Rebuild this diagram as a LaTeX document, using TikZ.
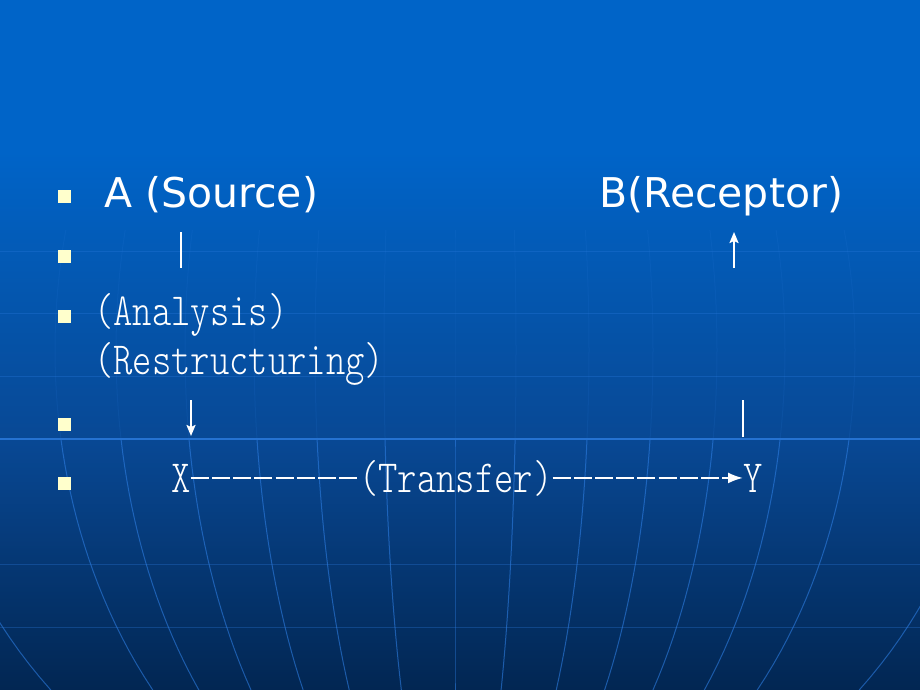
\documentclass[tikz,border=0pt]{standalone}
\usepackage{fontspec}
\usetikzlibrary{arrows.meta,positioning}

\newfontfamily\headfont{DejaVu Sans}
\newfontfamily\slidemono{lmmonolt10-regular.otf}[FakeStretch=0.8]

\definecolor{slidetop}{RGB}{0,100,200}
\definecolor{slidemid}{RGB}{8,72,148}
\definecolor{slidebot}{RGB}{2,38,82}
\definecolor{gridblue}{RGB}{45,125,225}
\definecolor{bulletcream}{RGB}{255,255,204}

% background, bottom (25bp) to top (75bp)
\pgfdeclareverticalshading{slidebg}{100bp}{color(0bp)=(slidebot); color(25bp)=(slidebot); color(43bp)=(slidemid); color(64bp)=(slidetop); color(100bp)=(slidetop)}

\tikzset{
  headtext/.style={anchor=base west,inner sep=0pt,text=white,font=\headfont\fontsize{41}{48}\selectfont},
  monotext/.style={anchor=base west,inner sep=0pt,text=white,font=\slidemono\fontsize{46}{52}\selectfont},
  bulletbox/.style={fill=bulletcream,minimum size=13pt,inner sep=0pt},
  stroke/.style={white,line width=2pt},
  dashline/.style={white,line width=2pt,dash pattern=on 18pt off 3.2pt},
  gridline/.style={gridblue,line width=1pt,opacity=0.3}
}

\begin{document}
\begin{tikzpicture}[x=1pt,y=-1pt]

 % slide background
 \shade[shading=slidebg] (0,0) rectangle (920,690);
 \useasboundingbox (0,0) rectangle (920,690);

 % globe lines
 \foreach \yy in {251,313,376,564,627}
   \draw[gridline] (0,\yy) -- (920,\yy);
 \draw[gridline,opacity=0.8,line width=2pt] (0,439) -- (920,439);
 \foreach \k in {-535,-400,-339,-270,-201,-140,-71,0,61,134,198,262,330,400,535}{
   \draw[gridline,opacity=0.12] plot[variable=\t,domain=230:440,samples=15]
     ({455+\k*sqrt(1-((\t-350)/519)^2)},\t);
   \draw[gridline,opacity=0.6] plot[variable=\t,domain=440:690,samples=20]
     ({455+\k*sqrt(1-((\t-350)/519)^2)},\t);
 }

 % bullets
 \node[bulletbox] (b1) at (64,196) {};
 \node[bulletbox] (b2) at (64,256) {};
 \node[bulletbox] (b3) at (64,316) {};
 \node[bulletbox] (b4) at (64,424) {};
 \node[bulletbox] (b5) at (64,483) {};

 % text lines
 \node[headtext] (srcA) at (104,207) {A (Source)};
 \node[headtext] (rcpB) at (599,207) {B(Receptor)};
 \node[monotext] (anal) at (94,325) {(Analysis)};
 \node[monotext] (restr) at (94,374) {(Restructuring)};
 \node[monotext] (nodeX) at (171,492) {X};
 \node[monotext] (transfer) at (359,492) {(Transfer)};
 \node[monotext] (nodeY) at (743,492) {Y};

 % A down to X
 \coordinate (a1) at (181,232);
 \coordinate (a2) at (181,268);
 \draw[stroke] (a1) -- (a2);
 \coordinate (a3) at (191,400);
 \coordinate (a4) at (191,436);
 \draw[stroke,-{Stealth[length=11pt,width=9pt,inset=2pt]}] (a3) -- (a4);

 % X over to Y
 \draw[dashline] (nodeX.east) -- (transfer.west |- nodeX.east);
 \draw[dashline,-{Latex[length=15pt,width=11pt]}] (transfer.east |- nodeY.west) -- (nodeY.west);

 % Y up to B
 \coordinate (y1) at (743,437);
 \coordinate (y2) at (743,400);
 \draw[stroke] (y1) -- (y2);
 \coordinate (y3) at (734,268);
 \coordinate (y4) at (734,232);
 \draw[stroke,-{Stealth[length=11pt,width=9pt,inset=2pt]}] (y3) -- (y4);

\end{tikzpicture}
\end{document}
